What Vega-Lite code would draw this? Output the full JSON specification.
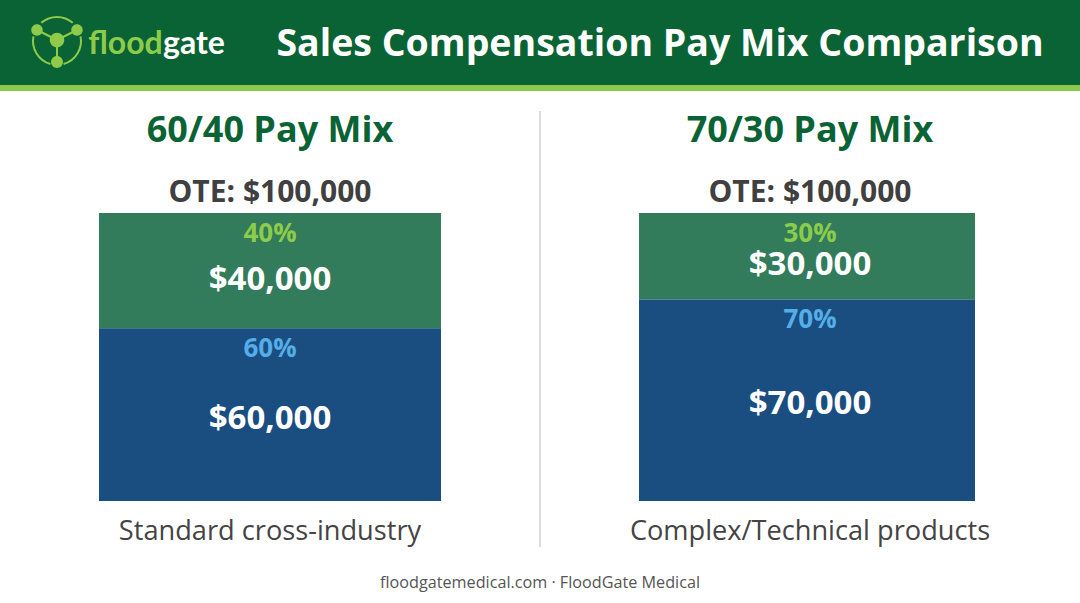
{
  "$schema": "https://vega.github.io/schema/vega-lite/v6.json",
  "padding": 0,
  "background": "#ffffff",
  "spacing": 0,
  "config": {
    "font": "Open Sans",
    "view": {"stroke": null},
    "text": {"baseline": "middle", "align": "center"}
  },
  "datasets": {
    "brand": [
      {"part": "logo"},
      {"part": "flood", "label": "flood"},
      {"part": "gate", "label": "gate"}
    ],
    "mixes": [
      {"mix": "60/40 Pay Mix", "ote": "OTE: $100,000", "total": 100000, "note": "Standard cross-industry"},
      {"mix": "70/30 Pay Mix", "ote": "OTE: $100,000", "total": 100000, "note": "Complex/Technical products"}
    ],
    "parts": [
      {"mix": "60/40 Pay Mix", "part": "Variable", "low": 60000, "high": 100000, "mid": 80000, "amount": "$40,000", "share": "40%"},
      {"mix": "60/40 Pay Mix", "part": "Base", "low": 0, "high": 60000, "mid": 30000, "amount": "$60,000", "share": "60%"},
      {"mix": "70/30 Pay Mix", "part": "Variable", "low": 70000, "high": 100000, "mid": 85000, "amount": "$30,000", "share": "30%"},
      {"mix": "70/30 Pay Mix", "part": "Base", "low": 0, "high": 70000, "mid": 35000, "amount": "$70,000", "share": "70%"}
    ]
  },
  "vconcat": [
    {
      "spacing": 0,
      "hconcat": [
        {
          "width": 240,
          "height": 85,
          "view": {"fill": "#0a6334"},
          "data": {"name": "brand"},
          "encoding": {
            "x": {
              "field": "part",
              "type": "nominal",
              "axis": null,
              "scale": {"type": "point", "domain": ["logo", "flood", "gate"], "range": [57, 194], "padding": 0}
            }
          },
          "layer": [
            {
              "transform": [{"filter": "datum.part == 'logo'"}],
              "mark": {
                "type": "point",
                "filled": false,
                "size": 2704,
                "opacity": 1,
                "stroke": "#8fcb4a",
                "strokeWidth": 2,
                "shape": "M-.606 -.755A.923 .923 0 0 1 .606 -.755M.906 -.234A.923 .923 0 0 1 .254 .829M-.254 .829A.923 .923 0 0 1 -.906 -.234M0 -.096L-.769 -.481M0 -.096L.769 -.481M0 -.096L0 .75"
              }
            },
            {
              "transform": [{"filter": "datum.part == 'logo'"}],
              "mark": {
                "type": "point",
                "filled": true,
                "size": 2704,
                "opacity": 1,
                "fill": "#8fcb4a",
                "shape": "M-.989 -.481a.22 .22 0 1 0 .44 0a.22 .22 0 1 0 -.44 0ZM.549 -.481a.22 .22 0 1 0 .44 0a.22 .22 0 1 0 -.44 0ZM-.28 -.096a.28 .28 0 1 0 .56 0a.28 .28 0 1 0 -.56 0ZM-.23 .75a.23 .23 0 1 0 .46 0a.23 .23 0 1 0 -.46 0Z"
              }
            },
            {
              "transform": [{"filter": "datum.part == 'flood'"}],
              "mark": {"type": "text", "font": "Lato", "fontWeight": "bold", "fontSize": 32, "color": "#8fcb4a", "dy": 1},
              "encoding": {"text": {"field": "label"}}
            },
            {
              "transform": [{"filter": "datum.part == 'gate'"}],
              "mark": {"type": "text", "font": "Lato", "fontWeight": "bold", "fontSize": 32, "color": "#ffffff", "dy": 1},
              "encoding": {"text": {"field": "label"}}
            }
          ]
        },
        {
          "width": 840,
          "height": 85,
          "view": {"fill": "#0a6334"},
          "data": {"values": [{"title": "Sales Compensation Pay Mix Comparison"}]},
          "mark": {"type": "text", "fontWeight": "bold", "fontSize": 37.5, "color": "#ffffff", "dy": 2},
          "encoding": {"text": {"field": "title"}}
        }
      ]
    },
    {
      "width": 1080,
      "height": 6,
      "view": {"fill": "#8cc84b"},
      "data": {"values": []},
      "mark": "rect",
      "encoding": {}
    },
    {
      "width": 1080,
      "height": 512,
      "encoding": {
        "x": {
          "field": "mix",
          "type": "nominal",
          "axis": null,
          "scale": {"domain": ["60/40 Pay Mix", "70/30 Pay Mix"], "paddingInner": 0, "paddingOuter": 0}
        }
      },
      "layer": [
        {
          "data": {"name": "parts"},
          "transform": [{"filter": "datum.mix == '60/40 Pay Mix'"}],
          "mark": {"type": "bar", "width": 342},
          "encoding": {
            "y": {
              "field": "high",
              "type": "quantitative",
              "axis": null,
              "scale": {"domain": [-35417, 142361], "nice": false, "zero": false}
            },
            "y2": {"field": "low"},
            "fill": {
              "field": "part",
              "type": "nominal",
              "legend": null,
              "scale": {"domain": ["Variable", "Base"], "range": ["#327b5b", "#1a4d80"]}
            }
          }
        },
        {
          "data": {"name": "parts"},
          "transform": [{"filter": "datum.mix == '70/30 Pay Mix'"}],
          "mark": {"type": "bar", "width": 336, "xOffset": -3},
          "encoding": {
            "y": {"field": "high", "type": "quantitative"},
            "y2": {"field": "low"},
            "fill": {"field": "part", "type": "nominal", "legend": null}
          }
        },
        {
          "data": {"name": "parts"},
          "mark": {"type": "text", "fontWeight": "bold", "fontSize": 26, "dy": 21},
          "encoding": {
            "y": {"field": "high", "type": "quantitative"},
            "text": {"field": "share"},
            "color": {
              "field": "part",
              "type": "nominal",
              "legend": null,
              "scale": {"domain": ["Variable", "Base"], "range": ["#8ccc4a", "#55aee8"]}
            }
          }
        },
        {
          "data": {"name": "parts"},
          "transform": [{"filter": "datum.part == 'Variable'"}],
          "mark": {"type": "text", "fontWeight": "bold", "fontSize": 33, "color": "#ffffff", "dy": 9},
          "encoding": {
            "y": {"field": "mid", "type": "quantitative"},
            "text": {"field": "amount"}
          }
        },
        {
          "data": {"name": "parts"},
          "transform": [{"filter": "datum.part == 'Base'"}],
          "mark": {"type": "text", "fontWeight": "bold", "fontSize": 33, "color": "#ffffff", "dy": 4},
          "encoding": {
            "y": {"field": "mid", "type": "quantitative"},
            "text": {"field": "amount"}
          }
        },
        {
          "data": {"name": "mixes"},
          "mark": {"type": "text", "fontWeight": "bold", "fontSize": 36, "color": "#0a6334", "dy": -82},
          "encoding": {
            "y": {"field": "total", "type": "quantitative"},
            "text": {"field": "mix"}
          }
        },
        {
          "data": {"name": "mixes"},
          "mark": {"type": "text", "fontWeight": "bold", "fontSize": 30, "color": "#404040", "dy": -20},
          "encoding": {
            "y": {"field": "total", "type": "quantitative"},
            "text": {"field": "ote"}
          }
        },
        {
          "data": {"name": "mixes"},
          "mark": {"type": "text", "fontSize": 27.2, "color": "#444444", "dy": 31},
          "encoding": {
            "y": {"datum": 0},
            "text": {"field": "note"}
          }
        },
        {
          "data": {"values": [{"mix": "60/40 Pay Mix"}]},
          "mark": {"type": "rule", "color": "#cfcfcf", "strokeWidth": 1.5},
          "encoding": {
            "x": {"field": "mix", "type": "nominal", "bandPosition": 1},
            "y": {"datum": 135417},
            "y2": {"datum": -15972}
          }
        },
        {
          "data": {"values": [{"footer": "floodgatemedical.com · FloodGate Medical"}]},
          "mark": {"type": "text", "fontSize": 16.2, "color": "#555555", "dy": 2},
          "encoding": {
            "x": null,
            "y": {"datum": -27778},
            "text": {"field": "footer"}
          }
        }
      ]
    }
  ]
}
